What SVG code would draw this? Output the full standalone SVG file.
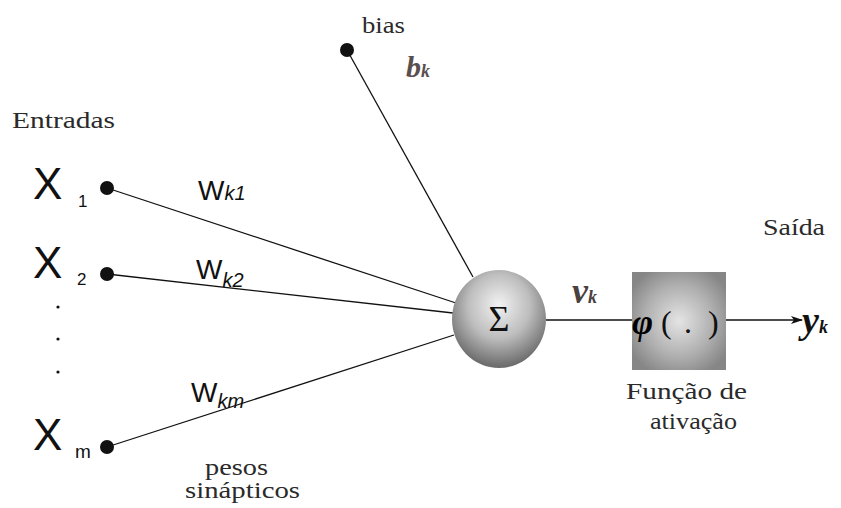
<svg xmlns="http://www.w3.org/2000/svg" width="841" height="508" viewBox="0 0 841 508">
<style>
.ln{stroke:#111;stroke-width:1.3;fill:none}
.dot{fill:#111}
.sans{font-family:'Liberation Sans',Arial,sans-serif;fill:#111}
.serif{font-family:'Liberation Serif','DejaVu Serif','Times New Roman',serif;fill:#111}
.lbl{font-family:'Liberation Serif','DejaVu Serif','Times New Roman',serif;fill:#2a2a2a;font-size:23px}
.var{font-family:'Liberation Serif','DejaVu Serif','Times New Roman',serif;font-style:italic;font-weight:bold}
</style>
<defs>
<radialGradient id="sph" cx="0.5" cy="0.38" r="0.6" fx="0.5" fy="0.35">
<stop offset="0" stop-color="#f2f2f2"/>
<stop offset="0.55" stop-color="#bdbdbd"/>
<stop offset="1" stop-color="#6e6e6e"/>
</radialGradient>
<radialGradient id="box" cx="0.5" cy="0.5" r="0.6">
<stop offset="0" stop-color="#e4e4e4"/>
<stop offset="0.6" stop-color="#b0b0b0"/>
<stop offset="1" stop-color="#868686"/>
</radialGradient>
<marker id="arr" markerWidth="12" markerHeight="8" refX="11" refY="4" orient="auto" markerUnits="userSpaceOnUse">
<path d="M0,0 L12,4 L0,8 L3,4 Z" fill="#111"/>
</marker>
</defs>
<rect width="841" height="508" fill="#fff"/>

<g id="connectors">
<line class="ln" x1="107" y1="188" x2="456" y2="303"/>
<line class="ln" x1="107" y1="274" x2="453" y2="313"/>
<line class="ln" x1="107" y1="447" x2="454" y2="335"/>
<line class="ln" x1="347" y1="50" x2="473" y2="277"/>
<line class="ln" x1="546" y1="320" x2="632" y2="320"/>
<line class="ln" x1="726" y1="320" x2="802" y2="320" marker-end="url(#arr)"/>
</g>

<g id="entradas"><text class="lbl" x="12" y="128" font-size="25" textLength="103" lengthAdjust="spacingAndGlyphs">Entradas</text></g>

<g id="x1">
<text class="sans" x="33" y="199" font-size="44">X</text>
<text class="sans" x="78" y="207" font-size="17">1</text>
<circle class="dot" cx="107" cy="188" r="7"/>
</g>
<g id="x2">
<text class="sans" x="33" y="278" font-size="44">X</text>
<text class="sans" x="77" y="285" font-size="17">2</text>
<circle class="dot" cx="107" cy="274" r="7"/>
</g>
<g id="dots">
<circle class="dot" cx="58" cy="307" r="1.6"/>
<circle class="dot" cx="58" cy="339" r="1.6"/>
<circle class="dot" cx="58" cy="372" r="1.6"/>
</g>
<g id="xm">
<text class="sans" x="33" y="450" font-size="44">X</text>
<text class="sans" x="75" y="458" font-size="19">m</text>
<circle class="dot" cx="107" cy="447" r="7"/>
</g>

<g id="weights">
<text class="sans" x="198" y="200" font-size="28">W<tspan font-size="20" font-style="italic">k1</tspan></text>
<text class="sans" x="196" y="279" font-size="28">W<tspan font-size="20" font-style="italic" dy="8">k2</tspan></text>
<text class="sans" x="191" y="402" font-size="28">W<tspan font-size="20" font-style="italic" dy="6">km</tspan></text>
<text class="lbl" x="205" y="475" font-size="21" textLength="63" lengthAdjust="spacingAndGlyphs">pesos</text>
<text class="lbl" x="185" y="498" font-size="21" textLength="115" lengthAdjust="spacingAndGlyphs">sinápticos</text>
</g>

<g id="bias">
<text class="lbl" x="362" y="33" textLength="43" lengthAdjust="spacingAndGlyphs">bias</text>
<circle class="dot" cx="347" cy="50" r="7"/>
<text class="var" x="406" y="77" font-size="30" fill="#5a4f4f">b<tspan font-size="18">k</tspan></text>
</g>

<g id="sum">
<ellipse cx="499" cy="319" rx="47" ry="49" fill="url(#sph)"/>
<text class="serif" x="499" y="331" font-size="36" text-anchor="middle">Σ</text>
</g>

<g id="vk"><text class="var" x="572" y="303" font-size="36" fill="#4a4040">v<tspan font-size="18">k</tspan></text></g>

<g id="activation">
<rect x="632" y="272" width="94" height="98" fill="url(#box)"/>
<text class="var" x="632" y="334" font-size="36">φ</text>
<text class="serif" x="661" y="333" font-size="32">(</text>
<text class="serif" x="684" y="333" font-size="32">.</text>
<text class="serif" x="708" y="333" font-size="32">)</text>
<text class="lbl" x="626" y="399" textLength="121" lengthAdjust="spacingAndGlyphs">Função de</text>
<text class="lbl" x="650" y="429" textLength="87" lengthAdjust="spacingAndGlyphs">ativação</text>
</g>

<g id="output">
<text class="lbl" x="763" y="235" textLength="62" lengthAdjust="spacingAndGlyphs">Saída</text>
<text class="var" x="802" y="333" font-size="38" fill="#111">y<tspan font-size="18">k</tspan></text>
</g>
</svg>
